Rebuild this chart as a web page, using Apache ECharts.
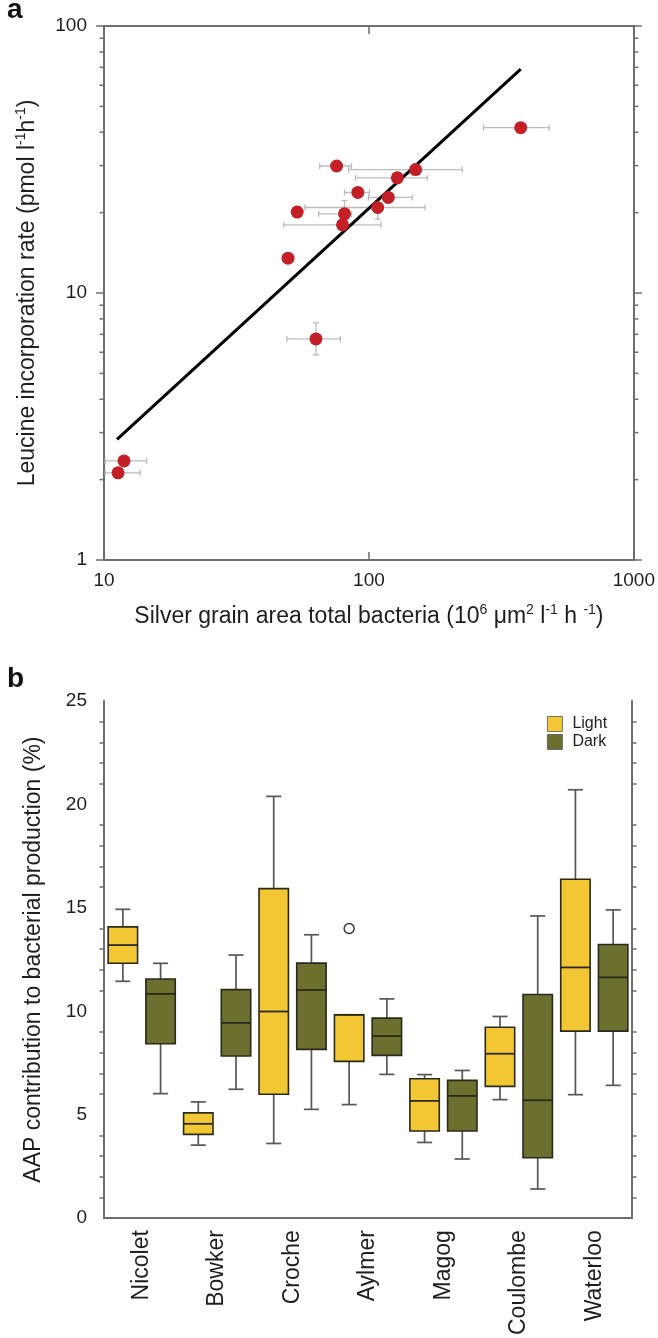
<!DOCTYPE html>
<html><head><meta charset="utf-8">
<script src="https://cdn.jsdelivr.net/npm/echarts@6/dist/echarts.min.js"></script>
<style>html,body{margin:0;padding:0;background:#fff}#c{width:658px;height:1338px}</style>
</head><body><div id="c"></div>
<script>
// ---------- Panel a data ----------
const silverArea  = [11.3, 11.9, 63.1, 49.5, 53.6, 80.9, 79.5, 107.9, 118.3, 90.8, 128, 75.5, 150, 374];
const leucineRate = [2.12, 2.35, 6.73, 13.5, 20.1, 19.8, 18.0, 20.9, 22.8, 23.8, 27.0, 29.9, 29.0, 41.6];
const areaLow     = [10.1, 10.1, 49,   null, null, 64.6, 47.7, 57.3, 99.6, 80.9, 89,  65.2, 83.8, 271];
const areaHigh    = [13.7, 14.5, 78,   null, null, 86,   111,  163,  145.6, 100.4, 166, 85.9, 225, 479];
const rateLow     = [null, null, 5.86, null, null, 17.6, null, 18.9, null, null, null, null, null, null];
const rateHigh    = [null, null, 7.73, null, null, 22.2, null, 21.7, null, null, null, null, null, null];
const fitX = [11.2, 374];
const fitY = [2.83, 69.0];
const xLogMin = 10, xLogMax = 1000, yLogMin = 1, yLogMax = 100;
const yMinorTicks = [2, 3, 4, 5, 6, 7, 8, 9, 20, 30, 40, 50, 60, 70, 80, 90];

// ---------- Panel b data ----------
const lakes = ['Nicolet', 'Bowker', 'Croche', 'Aylmer', 'Magog', 'Coulombe', 'Waterloo'];
// [min, Q1, median, Q3, max]
const lightStats = [
  [11.45, 12.32, 13.2, 14.08, 14.93],
  [3.53, 4.05, 4.56, 5.09, 5.62],
  [3.61, 5.99, 9.99, 15.93, 20.39],
  [5.49, 7.58, 9.83, 9.83, 9.83],
  [3.66, 4.21, 5.67, 6.74, 6.94],
  [5.73, 6.37, 7.95, 9.23, 9.75],
  [5.97, 9.04, 12.12, 16.38, 20.71]
];
const darkStats = [
  [6.02, 8.43, 10.84, 11.56, 12.32],
  [6.23, 7.84, 9.44, 11.05, 12.72],
  [5.26, 8.16, 11.03, 12.33, 13.7],
  [6.95, 7.87, 8.8, 9.67, 10.6],
  [2.86, 4.21, 5.91, 6.66, 7.14],
  [1.41, 2.92, 5.7, 10.81, 14.61],
  [6.42, 9.04, 11.64, 13.23, 14.9]
];
const lightOutliers = [[3, 14.0]]; // [lake index, value]
const yTicksB = {min: 0, max: 25, interval: 5};

// ---------- styles ----------
const FONT = '"Liberation Sans", Arial, Helvetica, sans-serif';
const AXIS_COLOR = '#6e6e6e';
const TXT = '#1e1e1e';
const LIGHT = '#F3C733';
const DARK = '#6C6F2E';
const EDGE = '#2a2a1c';

const chart = echarts.init(document.getElementById('c'), null, {renderer: 'canvas'});

const axisLine = {show: true, lineStyle: {color: AXIS_COLOR, width: 2}};
const tickLabel = {fontFamily: FONT, fontSize: 19, color: TXT};
const rich = {
  n: {fontFamily: FONT, fontSize: 23, color: TXT, lineHeight: 28},
  s: {fontFamily: FONT, fontSize: 14, color: TXT, lineHeight: 15, verticalAlign: 'top'}
};

function renderErr(params, api) {
  const x = api.value(0), y = api.value(1);
  const xl = api.value(2), xh = api.value(3), yl = api.value(4), yh = api.value(5);
  const st = {stroke: '#bcbcbc', lineWidth: 1.3};
  const cap = 3;
  const ch = [];
  const p = api.coord([x, y]);
  if (isFinite(xl) && isFinite(xh) && xl > 0 && xh > 0) {
    const a = api.coord([xl, y]), b = api.coord([xh, y]);
    ch.push({type: 'line', shape: {x1: a[0], y1: p[1], x2: b[0], y2: p[1]}, style: st});
    ch.push({type: 'line', shape: {x1: a[0], y1: p[1] - cap, x2: a[0], y2: p[1] + cap}, style: st});
    ch.push({type: 'line', shape: {x1: b[0], y1: p[1] - cap, x2: b[0], y2: p[1] + cap}, style: st});
  }
  if (isFinite(yl) && isFinite(yh) && yl > 0 && yh > 0) {
    const a = api.coord([x, yl]), b = api.coord([x, yh]);
    ch.push({type: 'line', shape: {x1: p[0], y1: a[1], x2: p[0], y2: b[1]}, style: st});
    ch.push({type: 'line', shape: {x1: p[0] - cap, y1: a[1], x2: p[0] + cap, y2: a[1]}, style: st});
    ch.push({type: 'line', shape: {x1: p[0] - cap, y1: b[1], x2: p[0] + cap, y2: b[1]}, style: st});
  }
  return {type: 'group', children: ch};
}

function renderMinor(params, api) {
  const v = api.value(1);
  const y = api.coord([xLogMin, v])[1];
  const cs = params.coordSys;
  const st = {stroke: AXIS_COLOR, lineWidth: 1.5};
  return {type: 'group', children: [
    {type: 'line', shape: {x1: cs.x - 4.5, y1: y, x2: cs.x, y2: y}, style: st},
    {type: 'line', shape: {x1: cs.x + cs.width, y1: y, x2: cs.x + cs.width + 4.5, y2: y}, style: st}
  ]};
}

function makeBoxRender(side, fill) {
  return function (params, api) {
    const cat = api.value(0);
    const band = api.size([1, 0])[0];
    const cx = api.coord([cat, 0])[0] + side * band / 4;
    const bw = band * 0.39, cw = band * 0.2;
    const y = i => api.coord([cat, api.value(i)])[1];
    const yMin = y(1), yQ1 = y(2), yMed = y(3), yQ3 = y(4), yMax = y(5);
    const wst = {stroke: '#575757', lineWidth: 1.7};
    const est = {stroke: EDGE, lineWidth: 1.8};
    return {type: 'group', children: [
      {type: 'line', shape: {x1: cx, y1: yMax, x2: cx, y2: yQ3}, style: wst},
      {type: 'line', shape: {x1: cx - cw / 2, y1: yMax, x2: cx + cw / 2, y2: yMax}, style: wst},
      {type: 'line', shape: {x1: cx, y1: yMin, x2: cx, y2: yQ1}, style: wst},
      {type: 'line', shape: {x1: cx - cw / 2, y1: yMin, x2: cx + cw / 2, y2: yMin}, style: wst},
      {type: 'rect', shape: {x: cx - bw / 2, y: yQ3, width: bw, height: yQ1 - yQ3}, style: {fill: fill, stroke: EDGE, lineWidth: 1.6}},
      {type: 'line', shape: {x1: cx - bw / 2, y1: yMed, x2: cx + bw / 2, y2: yMed}, style: est}
    ]};
  };
}

function renderOutlier(params, api) {
  const band = api.size([1, 0])[0];
  const p = api.coord([api.value(0), api.value(1)]);
  return {type: 'circle', shape: {cx: p[0] - band / 4, cy: p[1], r: 5}, style: {fill: '#fff', stroke: '#333', lineWidth: 1.4}};
}

const ptsA = silverArea.map((x, i) => [x, leucineRate[i]]);
const errA = silverArea.map((x, i) => [x, leucineRate[i], areaLow[i], areaHigh[i], rateLow[i], rateHigh[i]]);
const plainNum = v => String(v);

const option = {
  backgroundColor: '#fff',
  animation: false,
  title: [
    {text: 'a', left: 7, top: -4, padding: 0, textStyle: {fontFamily: FONT, fontSize: 28, fontWeight: 'bold', color: '#111'}},
    {text: 'b', left: 7, top: 665, padding: 0, textStyle: {fontFamily: FONT, fontSize: 28, fontWeight: 'bold', color: '#111'}}
  ],
  legend: {
    data: ['Light', 'Dark'],
    orient: 'vertical', left: 547, top: 716, padding: 0,
    icon: 'rect', itemWidth: 15, itemHeight: 15, itemGap: 2,
    itemStyle: {borderColor: '#555', borderWidth: 0.8},
    textStyle: {fontFamily: FONT, fontSize: 16, color: TXT, padding: [0, 0, 0, 5]}
  },
  grid: [
    {left: 104, top: 26, width: 533, height: 534},
    {left: 104, top: 701, width: 528, height: 519}
  ],
  xAxis: [
    {type: 'log', gridIndex: 0, min: xLogMin, max: xLogMax, position: 'bottom',
     axisLine, axisTick: {inside: true, length: 8, lineStyle: {color: AXIS_COLOR, width: 1.5}},
     axisLabel: Object.assign({margin: 11, formatter: plainNum}, tickLabel), splitLine: {show: false},
     name: '{n|Silver grain area total bacteria (10}{s|6}{n| μm}{s|2}{n| l}{s|-1}{n| h }{s|-1}{n|)}',
     nameLocation: 'middle', nameGap: 43, nameTextStyle: {rich}},
    {type: 'log', gridIndex: 0, min: xLogMin, max: xLogMax, position: 'top',
     axisLine, axisTick: {inside: true, length: 8, lineStyle: {color: AXIS_COLOR, width: 1.5}},
     axisLabel: {show: false}, splitLine: {show: false}},
    {type: 'category', gridIndex: 1, data: lakes, position: 'bottom',
     axisLine, axisTick: {show: false},
     axisLabel: Object.assign({}, tickLabel, {rotate: 90, margin: 12, fontSize: 23, interval: 0}),
     splitLine: {show: false}},
    {type: 'category', gridIndex: 1, data: lakes, position: 'top',
     axisLine, axisTick: {show: false}, axisLabel: {show: false}, splitLine: {show: false}}
  ],
  yAxis: [
    {type: 'log', gridIndex: 0, min: yLogMin, max: yLogMax, position: 'left',
     axisLine, axisTick: {length: 8, lineStyle: {color: AXIS_COLOR, width: 1.5}},
     axisLabel: Object.assign({margin: 17, formatter: plainNum}, tickLabel), splitLine: {show: false},
     name: '{n|Leucine incorporation rate (pmol l}{s|-1}{n|h}{s|-1}{n|)}',
     nameLocation: 'middle', nameGap: 62, nameTextStyle: {rich}},
    {type: 'log', gridIndex: 0, min: yLogMin, max: yLogMax, position: 'right',
     axisLine, axisTick: {length: 8, lineStyle: {color: AXIS_COLOR, width: 1.5}},
     axisLabel: {show: false}, splitLine: {show: false}},
    {type: 'value', gridIndex: 1, min: yTicksB.min, max: yTicksB.max, interval: yTicksB.interval, position: 'left',
     axisLine, axisTick: {length: 8, lineStyle: {color: AXIS_COLOR, width: 1.5}},
     minorTick: {show: true, splitNumber: 5, length: 4.5, lineStyle: {color: AXIS_COLOR, width: 1.5}},
     axisLabel: Object.assign({margin: 17}, tickLabel), splitLine: {show: false}, minorSplitLine: {show: false},
     name: 'AAP contribution to bacterial production (%)',
     nameLocation: 'middle', nameGap: 59, nameTextStyle: {fontFamily: FONT, fontSize: 23, color: TXT}},
    {type: 'value', gridIndex: 1, min: yTicksB.min, max: yTicksB.max, interval: yTicksB.interval, position: 'right',
     axisLine, axisTick: {length: 8, lineStyle: {color: AXIS_COLOR, width: 1.5}},
     minorTick: {show: true, splitNumber: 5, length: 4.5, lineStyle: {color: AXIS_COLOR, width: 1.5}},
     axisLabel: {show: false}, splitLine: {show: false}, minorSplitLine: {show: false}}
  ],
  series: [
    {name: 'minorTicks', type: 'custom', xAxisIndex: 0, yAxisIndex: 0, silent: true, z: 1,
     renderItem: renderMinor, data: yMinorTicks.map(v => [xLogMin, v])},
    {name: 'errorBars', type: 'custom', xAxisIndex: 0, yAxisIndex: 0, z: 2,
     renderItem: renderErr, encode: {x: 0, y: 1}, data: errA},
    {name: 'fit', type: 'line', xAxisIndex: 0, yAxisIndex: 0, z: 3, symbol: 'none',
     lineStyle: {color: '#000', width: 3}, data: fitX.map((x, i) => [x, fitY[i]])},
    {name: 'samples', type: 'scatter', xAxisIndex: 0, yAxisIndex: 0, z: 4, symbolSize: 13,
     itemStyle: {color: '#C41F27', opacity: 1}, data: ptsA},
    {name: 'Light', type: 'custom', xAxisIndex: 2, yAxisIndex: 2, z: 3,
     itemStyle: {color: LIGHT},
     renderItem: makeBoxRender(-1, LIGHT), encode: {x: 0, y: [1, 2, 3, 4, 5]},
     data: lightStats.map((s, i) => [i].concat(s))},
    {name: 'Dark', type: 'custom', xAxisIndex: 2, yAxisIndex: 2, z: 3,
     itemStyle: {color: DARK},
     renderItem: makeBoxRender(1, DARK), encode: {x: 0, y: [1, 2, 3, 4, 5]},
     data: darkStats.map((s, i) => [i].concat(s))},
    {name: 'outliers', type: 'custom', xAxisIndex: 2, yAxisIndex: 2, z: 4,
     renderItem: renderOutlier, encode: {x: 0, y: 1}, data: lightOutliers}
  ]
};
chart.setOption(option);
</script>
</body></html>
